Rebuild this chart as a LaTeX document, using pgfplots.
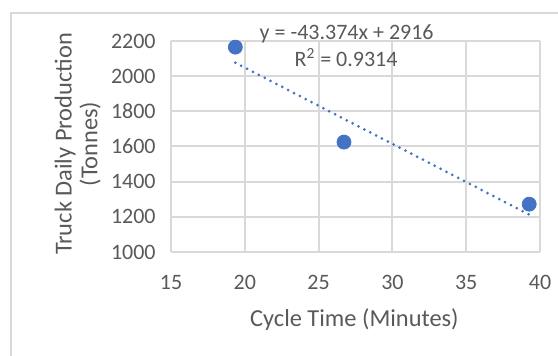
\documentclass[border=0pt]{standalone}
\usepackage{pgfplots}
\pgfplotsset{compat=1.18}
\usepackage{fontspec}
\setmainfont{Carlito}
\definecolor{txt}{RGB}{89,89,89}
\definecolor{gridc}{RGB}{217,217,217}
\definecolor{xblue}{RGB}{68,114,196}
\begin{document}
\begin{tikzpicture}
\useasboundingbox (0,0) rectangle (279bp,178bp);
\draw[gridc, line width=1bp] (5.5bp,-3bp) -- (5.5bp,171.65bp) -- (283bp,171.65bp);
\begin{axis}[
  at={(85.5bp,52bp)}, anchor=south west,
  scale only axis, width=184.5bp, height=105.5bp,
  xmin=15, xmax=40, ymin=1000, ymax=2200,
  xtick={15,20,...,40}, ytick={1000,1200,...,2200},
  grid=major, major grid style={gridc, line width=1bp},
  axis line style={draw=none},
  tick style={draw=none},
  clip=false,
  ticklabel style={font=\fontsize{11bp}{13bp}\selectfont, text=txt, inner sep=0pt},
  xticklabel style={anchor=north, yshift=-11.5bp},
  yticklabel style={anchor=east, xshift=-7.5bp},
  /pgf/number format/assume math mode=true,
  /pgf/number format/1000 sep={},
  every axis y label/.style={at={(axis description cs:-0.253,0.512)}, rotate=90, anchor=center, align=center, font=\fontsize{12.2bp}{12.9bp}\selectfont, text=txt},
  every axis x label/.style={at={(axis description cs:0.497,-0.351)}, anchor=base, font=\fontsize{12.2bp}{15bp}\selectfont, text=txt},
  ylabel={Truck Daily Production\\(Tonnes)},
  xlabel={Cycle Time (Minutes)},
]
\addplot[xblue, line width=1.5bp, line cap=round, dash pattern=on 0pt off 3.3bp] coordinates {(19.36,2076.3) (39.27,1212.7)};
\addplot[only marks, mark=*, mark size=3.5bp, mark options={draw=xblue, fill=xblue}] coordinates {(19.36,2165) (26.72,1625) (39.27,1272)};
\node[font=\fontsize{11bp}{13bp}\selectfont, text=txt, anchor=base] at (axis cs:26.9,2210) {y = -43.374x + 2916};
\node[font=\fontsize{11bp}{13bp}\selectfont, text=txt, anchor=base] at (axis cs:26.86,2054) {R\textsuperscript{2} = 0.9314};
\end{axis}
\end{tikzpicture}
\end{document}
